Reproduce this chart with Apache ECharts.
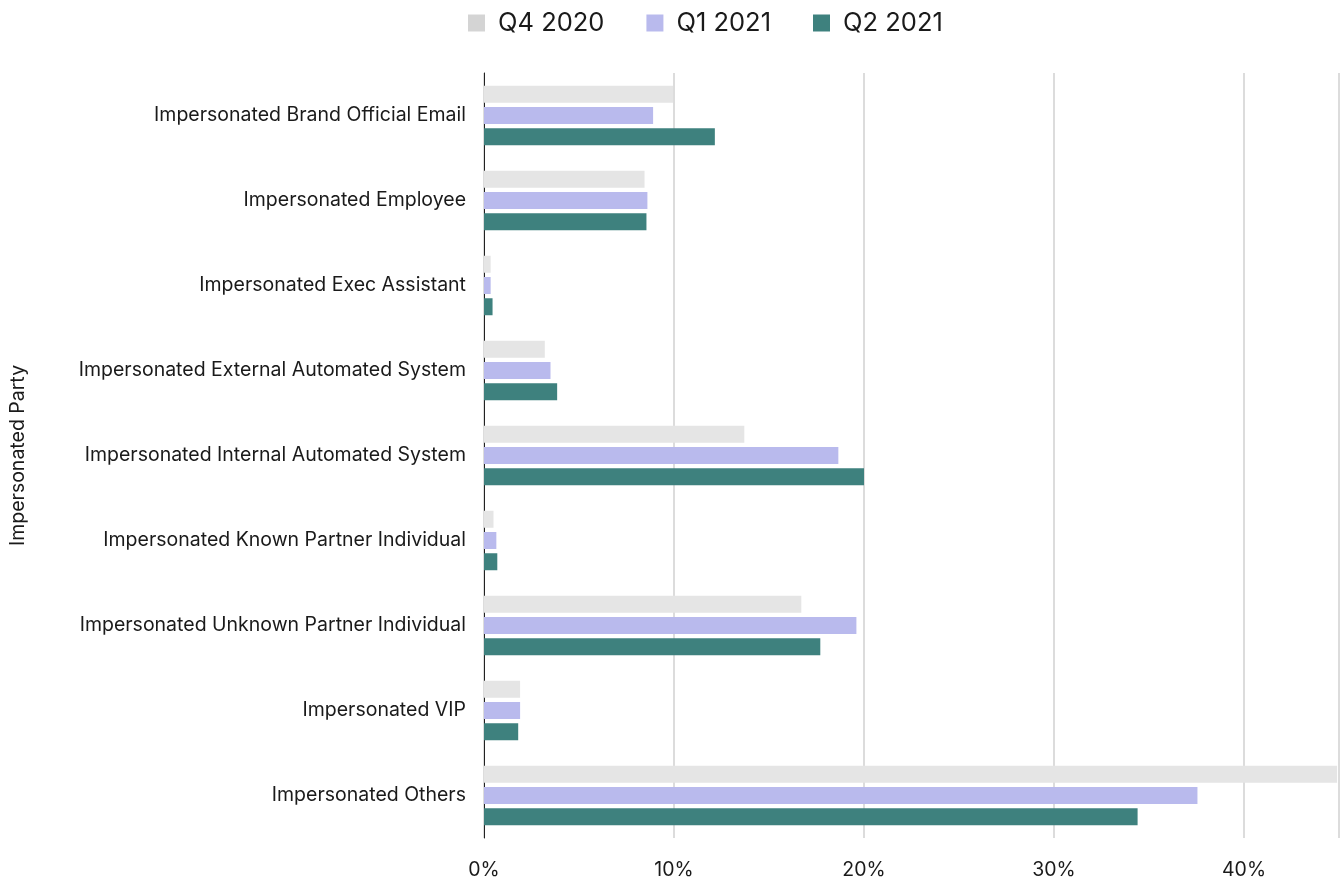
<!DOCTYPE html>
<html>
<head>
<meta charset="utf-8">
<script src="https://cdn.jsdelivr.net/npm/echarts@6/dist/echarts.min.js"></script>
<style>
  html, body { margin: 0; padding: 0; background: #ffffff; }
  #chart { width: 1340px; height: 877px; }
</style>
</head>
<body>
<div id="chart"></div>
<script>
// Share of impersonation attacks by impersonated party, per quarter (%)
const categories = [
  'Impersonated Brand Official Email',
  'Impersonated Employee',
  'Impersonated Exec Assistant',
  'Impersonated External Automated System',
  'Impersonated Internal Automated System',
  'Impersonated Known Partner Individual',
  'Impersonated Unknown Partner Individual',
  'Impersonated VIP',
  'Impersonated Others'
];
const seriesNames = ['Q4 2020', 'Q1 2021', 'Q2 2021'];
const q4_2020 = [9.95, 8.45, 0.35, 3.2, 13.7, 0.5, 16.7, 1.9, 44.9];
const q1_2021 = [8.9, 8.6, 0.35, 3.5, 18.65, 0.65, 19.6, 1.9, 37.55];
const q2_2021 = [12.15, 8.55, 0.45, 3.85, 20.0, 0.7, 17.7, 1.8, 34.4];
const xTicks = [0, 10, 20, 30, 40];

const barColors = ['#e5e5e5', '#b9baed', '#3e817e'];
const legendColors = ['#d4d4d4', '#b9baed', '#3e817e'];
const font = 'Inter, "Noto Sans", sans-serif';

const chart = echarts.init(document.getElementById('chart'), null, { renderer: 'canvas' });

const values = [q4_2020, q1_2021, q2_2021];

chart.setOption({
  animation: false,
  backgroundColor: '#ffffff',
  legend: {
    top: 5,
    left: 463,
    icon: 'rect',
    itemWidth: 17,
    itemHeight: 17,
    itemGap: 42,
    data: seriesNames.map((n, i) => ({ name: n, itemStyle: { color: legendColors[i] } })),
    textStyle: { fontFamily: font, fontSize: 25.5, color: '#1a1a1a', padding: [0, 0, 0, 8] }
  },
  grid: {
    left: 484, right: 1, top: 73, bottom: 39,
    containLabel: false,
    outerBoundsMode: 'none'
  },
  xAxis: {
    type: 'value',
    min: 0,
    max: 45,
    interval: 10,
    axisLine: { show: false },
    axisTick: { show: false },
    splitLine: { show: true, lineStyle: { color: '#dcdcdc', width: 2 } },
    axisLabel: {
      fontFamily: font,
      fontSize: 19.5,
      color: '#1a1a1a',
      margin: 22,
      formatter: v => (xTicks.indexOf(v) >= 0 ? v + '%' : '')
    }
  },
  yAxis: {
    type: 'category',
    inverse: true,
    data: categories,
    name: 'Impersonated Party',
    nameLocation: 'middle',
    nameGap: 456,
    nameTextStyle: { fontFamily: font, fontSize: 19.5, color: '#1a1a1a' },
    axisLine: { show: true, lineStyle: { color: '#222222', width: 1 } },
    axisTick: { show: false },
    splitLine: { show: false },
    axisLabel: { fontFamily: font, fontSize: 19.5, color: '#1a1a1a', margin: 18 }
  },
  series: seriesNames.map((n, i) => ({
    name: n,
    type: 'bar',
    data: values[i],
    barWidth: 17,
    barGap: '25%',
    itemStyle: { color: barColors[i] }
  }))
});
</script>
</body>
</html>
